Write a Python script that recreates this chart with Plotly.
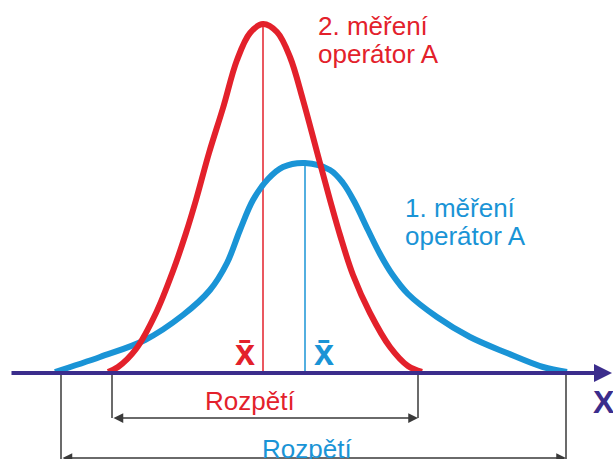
import plotly.graph_objects as go

# Curve 1 (blue, "1. měření"): x position and height above the X axis
blue_x = [55, 100, 145, 183, 210, 227, 240, 253, 268, 283, 305, 330, 343, 355, 368, 380, 392, 408, 437, 470, 507, 543, 567]
blue_h = [1, 16, 33, 58, 83, 110, 143, 173, 194, 206, 210, 203, 190, 170, 143, 119, 99, 79, 56, 36, 20, 6, 1]

# Curve 2 (red, "2. měření")
red_x = [108, 118, 136, 156, 173, 186, 196, 209, 223, 237, 250, 263, 277, 290, 303, 317, 330, 340, 353, 370, 390, 408, 422]
red_h = [1, 6, 24, 60, 102, 140, 173, 220, 265, 313, 340, 349, 341, 316, 273, 221, 173, 138, 98, 60, 26, 7, 1]

means = {"red": 263, "blue": 305}
range_red = [112, 418]
range_blue = [61, 566]

RED = "#e3212b"
BLUE = "#1a94d6"
INDIGO = "#3b2d8c"
DARK = "#3a3a3a"
FONT = "Liberation Sans, Arial, sans-serif"

fig = go.Figure()
fig.add_trace(go.Scatter(x=blue_x, y=blue_h, mode="lines",
                         line=dict(color=BLUE, width=6, shape="spline", smoothing=1.0),
                         hoverinfo="skip", showlegend=False))
fig.add_trace(go.Scatter(x=red_x, y=red_h, mode="lines",
                         line=dict(color=RED, width=6, shape="spline", smoothing=1.0),
                         hoverinfo="skip", showlegend=False))

shapes = []
# mean lines
shapes.append(dict(type="line", x0=means["red"], x1=means["red"], y0=0, y1=max(red_h),
                   line=dict(color=RED, width=1.5), layer="below"))
shapes.append(dict(type="line", x0=means["blue"], x1=means["blue"], y0=0, y1=max(blue_h),
                   line=dict(color=BLUE, width=1.5), layer="below"))
# range vertical ticks
for xv in range_red:
    shapes.append(dict(type="line", x0=xv, x1=xv, y0=0, y1=-45, line=dict(color=DARK, width=1.5)))
for xv in range_blue:
    shapes.append(dict(type="line", x0=xv, x1=xv, y0=0, y1=-90, line=dict(color=DARK, width=1.5)))

annotations = []
# X axis arrow
annotations.append(dict(x=612, y=0, ax=10, ay=0, xref="x", yref="y", axref="x", ayref="y",
                        text="", showarrow=True, arrowhead=2, arrowsize=0.9, arrowwidth=4,
                        arrowcolor=INDIGO))
# range arrows
annotations.append(dict(x=range_red[1], y=-45, ax=range_red[0], ay=-45, xref="x", yref="y",
                        axref="x", ayref="y", text="", showarrow=True, arrowside="end+start",
                        arrowhead=2, arrowsize=1.3, arrowwidth=1.5, arrowcolor=DARK))
annotations.append(dict(x=range_blue[1], y=-85, ax=range_blue[0], ay=-85, xref="x", yref="y",
                        axref="x", ayref="y", text="", showarrow=True, arrowside="end+start",
                        arrowhead=2, arrowsize=1.3, arrowwidth=1.5, arrowcolor=DARK))

def txt(x, y, s, color, size, xanchor="center", bold=False):
    annotations.append(dict(x=x, y=y, xref="x", yref="y", text=(f"<b>{s}</b>" if bold else s),
                            showarrow=False, xanchor=xanchor, yanchor="middle",
                            font=dict(family=FONT, size=size, color=color)))

txt(316, 347, "2. měření", RED, 26, "left")
txt(316, 319, "operátor A", RED, 26, "left")
txt(403, 165, "1. měření", BLUE, 26, "left")
txt(403, 137, "operátor A", BLUE, 26, "left")
txt(245, 21, "x\u0304", RED, 36, bold=True)
txt(324, 21, "x\u0304", BLUE, 36, bold=True)
txt(250, -28, "Rozpětí", RED, 26)
txt(307, -76, "Rozpětí", BLUE, 26)
txt(604, -29, "X", INDIGO, 32, bold=True)

fig.update_layout(
    width=613, height=459,
    margin=dict(l=0, r=0, t=0, b=0),
    paper_bgcolor="white", plot_bgcolor="white",
    xaxis=dict(range=[0, 613], visible=False, fixedrange=True),
    yaxis=dict(range=[-86, 373], visible=False, fixedrange=True),
    shapes=shapes, annotations=annotations,
    showlegend=False,
)
fig.write_html("out.html", config={"displayModeBar": False},
               post_script="document.body.style.margin='0px';document.body.style.overflow='hidden';")
